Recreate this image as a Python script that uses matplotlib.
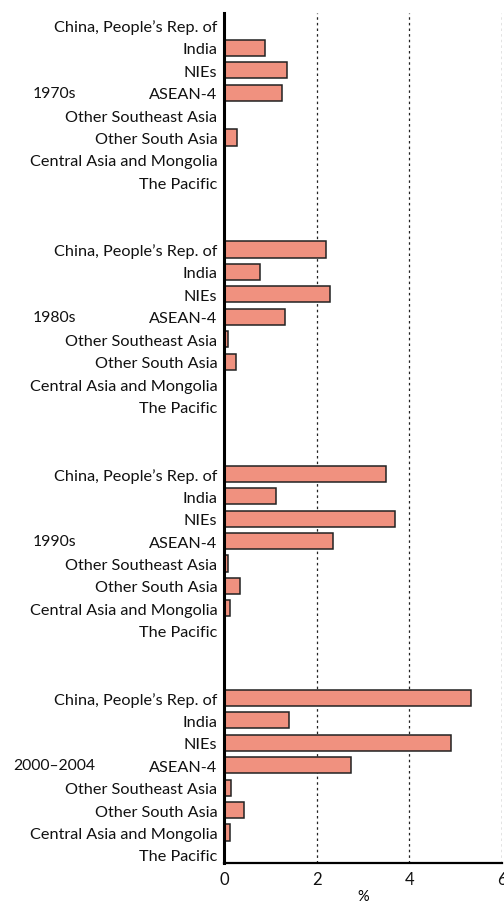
import numpy as np
import matplotlib as mpl
import matplotlib.pyplot as plt

mpl.rcParams['font.family'] = ['Lato', 'DejaVu Sans']

# regions listed top to bottom inside each period
regions = ['China, People\u2019s Rep. of', 'India', 'NIEs', 'ASEAN-4',
           'Other Southeast Asia', 'Other South Asia',
           'Central Asia and Mongolia', 'The Pacific']
periods = ['1970s', '1980s', '1990s', '2000\u20132004']

# contribution, %
v_1970s = [0.0, 0.88, 1.35, 1.24, 0.0, 0.28, 0.0, 0.0]
v_1980s = [2.19, 0.78, 2.29, 1.32, 0.07, 0.26, 0.02, 0.0]
v_1990s = [3.50, 1.12, 3.69, 2.35, 0.08, 0.35, 0.13, 0.0]
v_2000s = [5.33, 1.39, 4.90, 2.74, 0.15, 0.42, 0.12, 0.0]
values = [v_1970s, v_1980s, v_1990s, v_2000s]

bar_col = '#F0917F'
gap = 2  # empty rows between periods

fig = plt.figure(figsize=(5.04, 9.03), dpi=100)
ax = fig.add_axes([224.3 / 504, 1 - 864 / 903, 277.7 / 504, 850 / 903])

ypos = []
ylabels = []
for g, vals in enumerate(values):
    rows = np.arange(len(regions)) + g * (len(regions) + gap)
    ax.barh(rows, vals, height=0.72, color=bar_col, edgecolor='#222222',
            linewidth=1.1, zorder=3)
    ypos.extend(rows)
    ylabels.extend(regions)
    # period label next to the ASEAN-4 row
    ax.text(-0.613, rows[3], periods[g], transform=ax.get_yaxis_transform(),
            ha='center', va='center', fontsize=11.3, color='#111111')

ax.set_yticks(ypos)
ax.set_yticklabels(ylabels, fontsize=11.7, color='#111111')
ax.tick_params(axis='y', length=0, pad=5)
ax.tick_params(axis='x', length=0, pad=6, labelsize=12, labelcolor='#111111')

ax.set_xlim(0, 6)
ax.set_xticks([0, 2, 4, 6])
ax.set_ylim(37.36, -0.55)
ax.set_xlabel('%', fontsize=10.5, labelpad=1)

for x in [2, 4, 6]:
    ax.axvline(x, color='#222222', linestyle=(0, (2, 2.5)), linewidth=0.9, zorder=1)

ax.spines['top'].set_visible(False)
ax.spines['right'].set_visible(False)
ax.spines['left'].set_linewidth(2.2)
ax.spines['bottom'].set_linewidth(1.6)
ax.spines['left'].set_zorder(4)

# chart heading, running off the top edge
fig.text(0.03, 1.0035, 'Contribution to growth, developing Asia',
         color='#D98A1E', fontsize=13, fontweight='bold', va='baseline')

fig.savefig('out.png', dpi=100)
